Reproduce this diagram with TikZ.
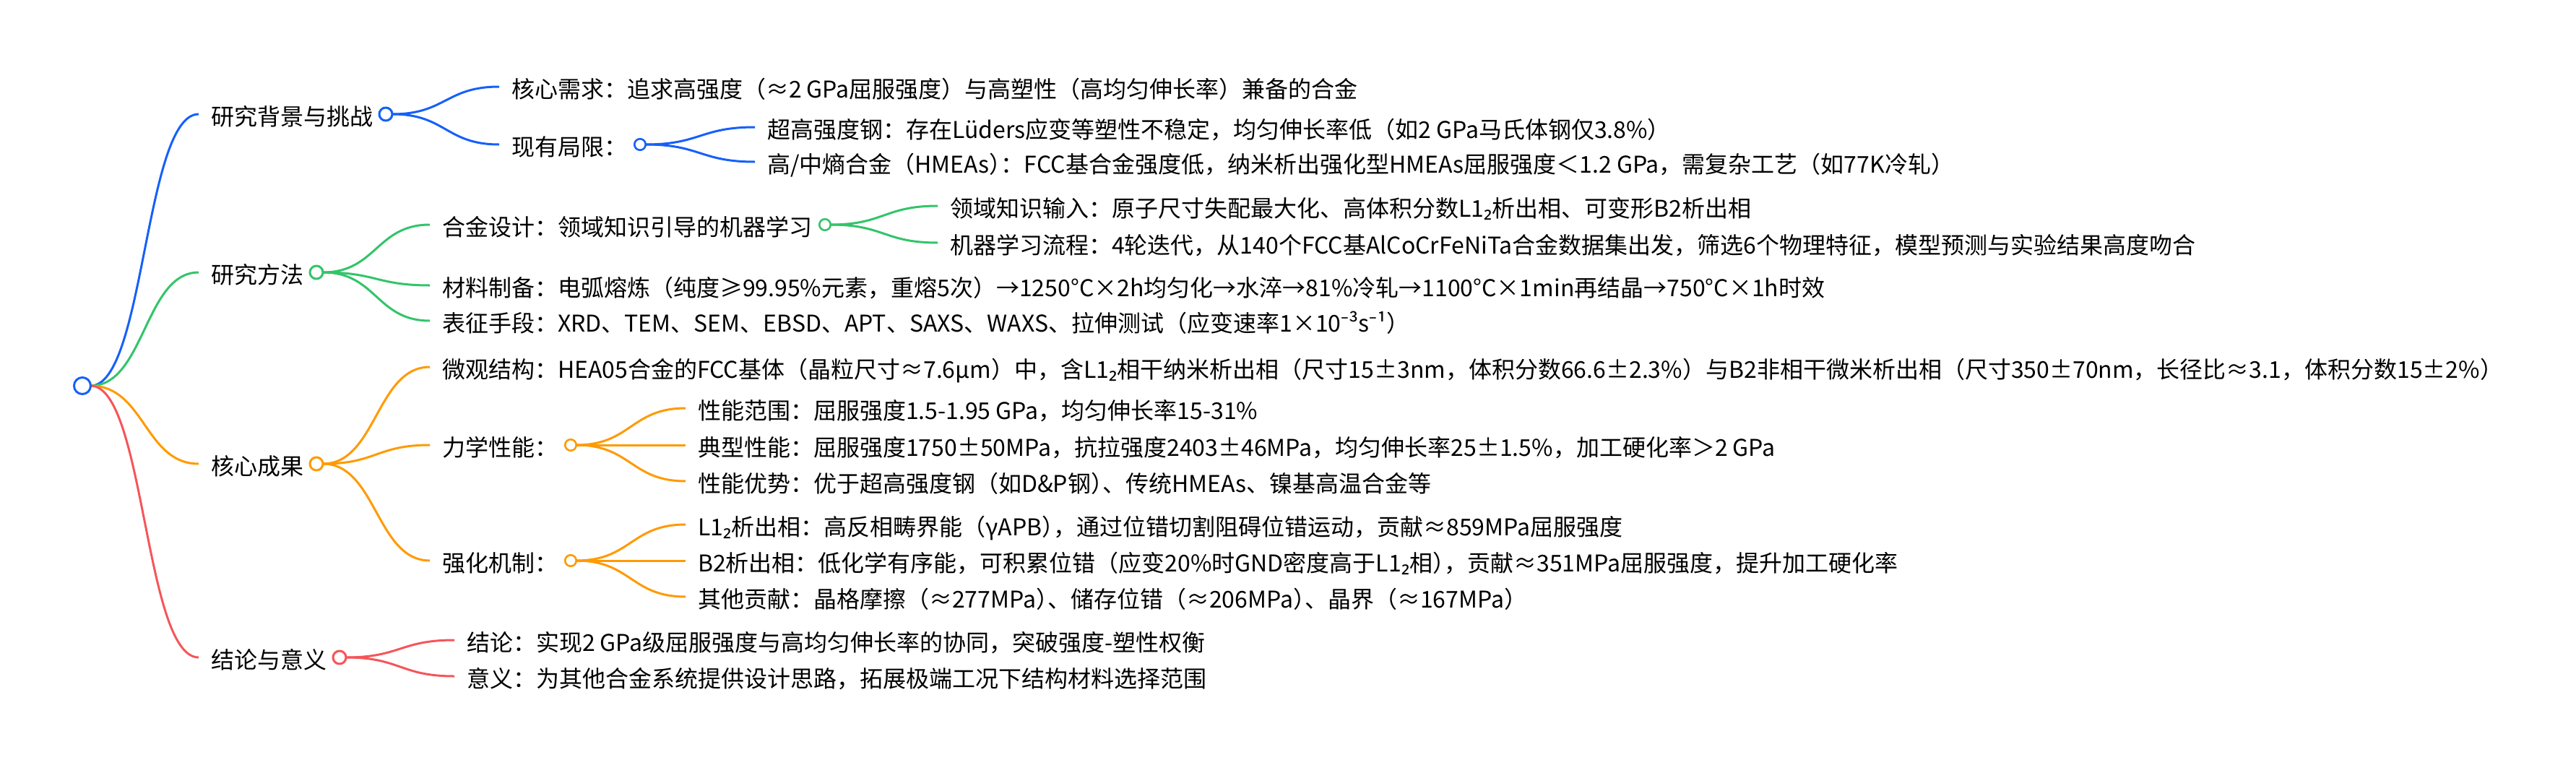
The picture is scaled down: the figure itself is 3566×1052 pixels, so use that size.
\documentclass[tikz,border=0pt]{standalone}
\usepackage{fontspec}
\setmainfont{Noto Sans CJK SC}
\newfontfamily\nsans{Noto Sans}
\usetikzlibrary{calc}
\pgfdeclarelayer{bg}
\pgfsetlayers{bg,main}
\definecolor{cblue}{HTML}{1560FA}
\definecolor{cgreen}{HTML}{33C46A}
\definecolor{corange}{HTML}{FF9A00}
\definecolor{cred}{HTML}{F5555A}
\newcommand\mmlink[3]{\begin{pgfonlayer}{bg}\draw[#1,line width=3pt] let \p1=(#2), \p2=(#3) in (\p1) .. controls ({(\x1+\x2)/2},\y1) and ({(\x1+\x2)/2},\y2) .. (\p2);\end{pgfonlayer}}
\newcommand\subtwo{{\nsans ₂}}
\newcommand\supminus{{\nsans ⁻}}
\newcommand\trim{\kern-0.5em}
\begin{document}
\begin{tikzpicture}[x=1pt,y=-1pt,
  txt/.style={anchor=west, inner sep=0pt, outer sep=0pt, text height=30pt, text depth=0pt, font=\fontsize{32pt}{38pt}\selectfont, text=black},
  hub/.style={circle, draw=#1, fill=white, line width=3pt, minimum size=18pt, inner sep=0pt, outer sep=0pt},
  subhub/.style={circle, draw=#1, fill=white, line width=2.6pt, minimum size=15.5pt, inner sep=0pt, outer sep=0pt}]
\useasboundingbox (0,0) rectangle (3566,1052);
% root
\node[hub=cblue, minimum size=23pt] (R) at (114,534) {};
% level 1
\node[txt] (A) at (292,158) {研究背景与挑战};
\node[hub=cblue] (Ac) at ([xshift=18pt]A.east) {};
\node[txt] (B) at (292,377) {研究方法};
\node[hub=cgreen] (Bc) at ([xshift=18pt]B.east) {};
\node[txt] (C) at (292,642) {核心成果};
\node[hub=corange] (Cc) at ([xshift=18pt]C.east) {};
\node[txt] (D) at (292,910) {结论与意义};
\node[hub=cred] (Dc) at ([xshift=18pt]D.east) {};
% A
\node[txt] (A1) at (708,120) {核心需求：追求高强度（≈2 GPa屈服强度）与高塑性（高均匀伸长率）兼备的合金};
\node[txt] (A2) at (708,200) {现有局限：};
\node[subhub=cblue] (A2c) at ([xshift=18pt]A2.east) {};
\node[txt] (A21) at (1062,176) {超高强度钢：存在Lüders应变等塑性不稳定，均匀伸长率低（如2 GPa马氏体钢仅3.8\%）};
\node[txt] (A22) at (1062,224) {高/中熵合金（HMEAs）\trim：FCC基合金强度低，纳米析出强化型HMEAs屈服强度＜1.2 GPa，需复杂工艺（如77K冷轧）};
% B
\node[txt] (B1) at (612,311) {合金设计：领域知识引导的机器学习};
\node[subhub=cgreen] (B1c) at ([xshift=18pt]B1.east) {};
\node[txt] (B11) at (1315,285) {领域知识输入：原子尺寸失配最大化、高体积分数L1\subtwo 析出相、可变形B2析出相};
\node[txt] (B12) at (1315,336) {机器学习流程：4轮迭代，从140个FCC基AlCoCrFeNiTa合金数据集出发，筛选6个物理特征，模型预测与实验结果高度吻合};
\node[txt] (B2) at (612,395) {材料制备：电弧熔炼（纯度≥99.95\%元素，重熔5次）→1250°C×2h均匀化→水淬→81\%冷轧→1100°C×1min再结晶→750°C×1h时效};
\node[txt] (B3) at (612,444) {表征手段：XRD、TEM、SEM、EBSD、APT、SAXS、WAXS、拉伸测试（应变速率1×10\supminus³s\supminus¹）};
% C
\node[txt] (C1) at (612,508) {微观结构：HEA05合金的FCC基体（晶粒尺寸≈7.6μm）中，含L1\subtwo 相干纳米析出相（尺寸15±3nm，体积分数66.6±2.3\%）与B2非相干微米析出相（尺寸350±70nm，长径比≈3.1，体积分数15±2\%）};
\node[txt] (C2) at (612,616) {力学性能：};
\node[subhub=corange] (C2c) at ([xshift=18pt]C2.east) {};
\node[txt] (C21) at (966,565) {性能范围：屈服强度1.5-1.95 GPa，均匀伸长率15-31\%};
\node[txt] (C22) at (966,616) {典型性能：屈服强度1750±50MPa，抗拉强度2403±46MPa，均匀伸长率25±1.5\%，加工硬化率＞2 GPa};
\node[txt] (C23) at (966,666) {性能优势：优于超高强度钢（如D\&P钢）\trim、传统HMEAs、镍基高温合金等};
\node[txt] (C3) at (612,776) {强化机制：};
\node[subhub=corange] (C3c) at ([xshift=18pt]C3.east) {};
\node[txt] (C31) at (966,726) {L1\subtwo 析出相：高反相畴界能（γAPB）\trim，通过位错切割阻碍位错运动，贡献≈859MPa屈服强度};
\node[txt] (C32) at (966,776) {B2析出相：低化学有序能，可积累位错（应变20\%时GND密度高于L1\subtwo 相）\trim，贡献≈351MPa屈服强度，提升加工硬化率};
\node[txt] (C33) at (966,826) {其他贡献：晶格摩擦（≈277MPa）\trim、储存位错（≈206MPa）\trim、晶界（≈167MPa）};
% D
\node[txt] (D1) at (646,886) {结论：实现2 GPa级屈服强度与高均匀伸长率的协同，突破强度-塑性权衡};
\node[txt] (D2) at (646,936) {意义：为其他合金系统提供设计思路，拓展极端工况下结构材料选择范围};
% links
\mmlink{cblue}{R.east}{[xshift=-17pt]A.west}
\mmlink{cgreen}{R.east}{[xshift=-17pt]B.west}
\mmlink{corange}{R.east}{[xshift=-17pt]C.west}
\mmlink{cred}{R.east}{[xshift=-17pt]D.west}
\mmlink{cblue}{Ac.east}{[xshift=-17pt]A1.west}
\mmlink{cblue}{Ac.east}{[xshift=-17pt]A2.west}
\mmlink{cblue}{A2c.east}{[xshift=-17pt]A21.west}
\mmlink{cblue}{A2c.east}{[xshift=-17pt]A22.west}
\mmlink{cgreen}{Bc.east}{[xshift=-17pt]B1.west}
\mmlink{cgreen}{Bc.east}{[xshift=-17pt]B2.west}
\mmlink{cgreen}{Bc.east}{[xshift=-17pt]B3.west}
\mmlink{cgreen}{B1c.east}{[xshift=-17pt]B11.west}
\mmlink{cgreen}{B1c.east}{[xshift=-17pt]B12.west}
\mmlink{corange}{Cc.east}{[xshift=-17pt]C1.west}
\mmlink{corange}{Cc.east}{[xshift=-17pt]C2.west}
\mmlink{corange}{Cc.east}{[xshift=-17pt]C3.west}
\mmlink{corange}{C2c.east}{[xshift=-17pt]C21.west}
\mmlink{corange}{C2c.east}{[xshift=-17pt]C22.west}
\mmlink{corange}{C2c.east}{[xshift=-17pt]C23.west}
\mmlink{corange}{C3c.east}{[xshift=-17pt]C31.west}
\mmlink{corange}{C3c.east}{[xshift=-17pt]C32.west}
\mmlink{corange}{C3c.east}{[xshift=-17pt]C33.west}
\mmlink{cred}{Dc.east}{[xshift=-17pt]D1.west}
\mmlink{cred}{Dc.east}{[xshift=-17pt]D2.west}
\end{tikzpicture}
\end{document}
